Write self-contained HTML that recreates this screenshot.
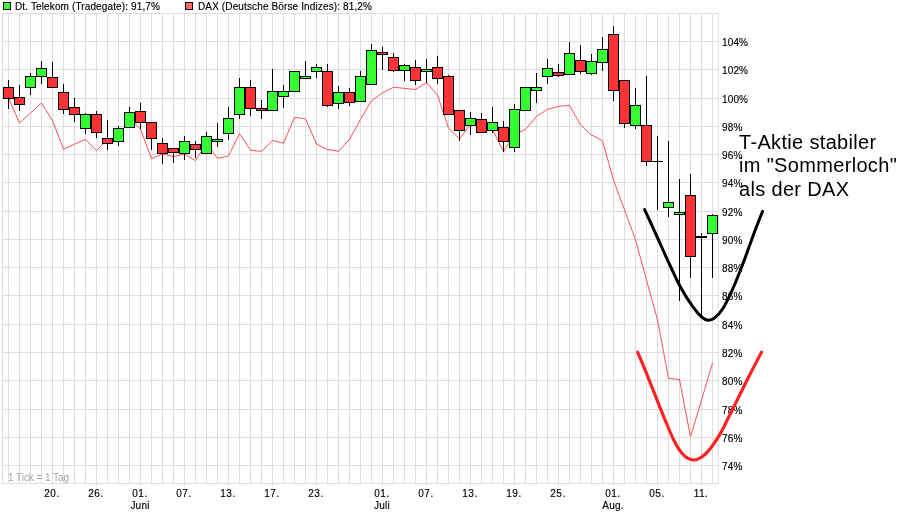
<!DOCTYPE html>
<html><head><meta charset="utf-8"><title>Chart</title>
<style>
html,body{margin:0;padding:0;background:#fff;}
body{width:922px;height:517px;position:relative;overflow:hidden;font-family:"Liberation Sans",sans-serif;color:#000;}
svg{position:absolute;left:0;top:0;}
.t{position:absolute;white-space:nowrap;font-size:10px;line-height:11px;letter-spacing:0.13px;will-change:transform;-webkit-text-stroke-width:0.15px;}
.c{text-align:center;width:40px;margin-left:-20px;letter-spacing:0.5px;}
.big{will-change:transform;position:absolute;white-space:nowrap;font-size:20px;line-height:24px;left:739px;letter-spacing:0.33px;}
</style></head><body>
<svg width="922" height="517" viewBox="0 0 922 517">
<rect x="0" y="0" width="922" height="517" fill="#fff"/>
<g shape-rendering="crispEdges">
<path d="M8.5 13V484M19.5 13V484M30.5 13V484M41.5 13V484M52.5 13V484M63.5 13V484M74.5 13V484M85.5 13V484M96.5 13V484M107.5 13V484M118.5 13V484M129.5 13V484M140.5 13V484M151.5 13V484M162.5 13V484M173.5 13V484M184.5 13V484M195.5 13V484M206.5 13V484M217.5 13V484M228.5 13V484M239.5 13V484M250.5 13V484M261.5 13V484M272.5 13V484M283.5 13V484M294.5 13V484M305.5 13V484M316.5 13V484M327.5 13V484M338.5 13V484M349.5 13V484M360.5 13V484M371.5 13V484M382.5 13V484M393.5 13V484M404.5 13V484M415.5 13V484M426.5 13V484M437.5 13V484M448.5 13V484M459.5 13V484M470.5 13V484M481.5 13V484M492.5 13V484M503.5 13V484M514.5 13V484M525.5 13V484M536.5 13V484M547.5 13V484M558.5 13V484M569.5 13V484M580.5 13V484M591.5 13V484M602.5 13V484M613.5 13V484M624.5 13V484M635.5 13V484M646.5 13V484M657.5 13V484M668.5 13V484M679.5 13V484M690.5 13V484M701.5 13V484M712.5 13V484M2 41.5H719M2 69.5H719M2 98.5H719M2 126.5H719M2 154.5H719M2 182.5H719M2 211.5H719M2 239.5H719M2 267.5H719M2 295.5H719M2 324.5H719M2 352.5H719M2 380.5H719M2 409.5H719M2 437.5H719M2 465.5H719" stroke="#dedede" stroke-width="1" fill="none"/>
<rect x="2.5" y="13.5" width="716" height="470" fill="none" stroke="#dedede" stroke-width="1"/>
<path d="M52.5 484V486M96.5 484V486M140.5 484V486M184.5 484V486M228.5 484V486M272.5 484V486M316.5 484V486M382.5 484V486M426.5 484V486M470.5 484V486M514.5 484V486M558.5 484V486M613.5 484V486M657.5 484V486M701.5 484V486" stroke="#dedede" stroke-width="1"/>
</g>
<polyline points="8.5,98 19.5,123 30.5,113 41.5,103 52.5,120.5 63.5,149.2 74.5,144.2 85.5,139.3 96.5,150.6 107.5,139.5 118.5,137 129.5,118 140.5,129 151.5,158.5 162.5,154 173.5,156.6 184.5,154 195.5,160.6 206.5,143 217.5,158.3 228.5,156 239.5,133.6 250.5,150.2 261.5,151.4 272.5,140.4 283.5,143.2 294.5,117.3 305.5,118.9 316.5,144.1 327.5,149.5 338.5,151.3 349.5,139.4 360.5,119.4 371.5,100.6 382.5,92.9 393.5,87.2 404.5,88.4 415.5,89.5 426.5,82.8 437.5,95 448.5,128 459.5,139 470.5,124 481.5,122 492.5,129.5 503.5,151.7 514.5,134.5 525.5,129.4 536.5,116.3 547.5,109.4 558.5,106.4 569.5,105.4 580.5,125 591.5,135 602.5,140.8 613.5,180 624.5,210 635.5,239.8 646.5,280 657.5,320 668.5,378.3 679.5,379.6 690.5,437 701.5,400 712.5,363" fill="none" stroke="#ff5050" stroke-width="1"/>
<g shape-rendering="crispEdges">
<rect x="8" y="80" width="1" height="29" fill="#000"/>
<rect x="3" y="87" width="11" height="12" fill="#000"/>
<rect x="4" y="88" width="9" height="10" fill="#ff3333"/>
<rect x="19" y="85" width="1" height="26" fill="#000"/>
<rect x="14" y="97" width="11" height="8" fill="#000"/>
<rect x="15" y="98" width="9" height="6" fill="#ff3333"/>
<rect x="30" y="73" width="1" height="22" fill="#000"/>
<rect x="25" y="76" width="11" height="12" fill="#000"/>
<rect x="26" y="77" width="9" height="10" fill="#33ff33"/>
<rect x="41" y="61" width="1" height="23" fill="#000"/>
<rect x="36" y="68" width="11" height="9" fill="#000"/>
<rect x="37" y="69" width="9" height="7" fill="#33ff33"/>
<rect x="52" y="62" width="1" height="26" fill="#000"/>
<rect x="47" y="77" width="11" height="11" fill="#000"/>
<rect x="48" y="78" width="9" height="9" fill="#ff3333"/>
<rect x="63" y="84" width="1" height="30" fill="#000"/>
<rect x="58" y="92" width="11" height="18" fill="#000"/>
<rect x="59" y="93" width="9" height="16" fill="#ff3333"/>
<rect x="74" y="98" width="1" height="24" fill="#000"/>
<rect x="69" y="107" width="11" height="8" fill="#000"/>
<rect x="70" y="108" width="9" height="6" fill="#ff3333"/>
<rect x="85" y="113" width="1" height="21" fill="#000"/>
<rect x="80" y="114" width="11" height="15" fill="#000"/>
<rect x="81" y="115" width="9" height="13" fill="#33ff33"/>
<rect x="96" y="111" width="1" height="27" fill="#000"/>
<rect x="91" y="114" width="11" height="19" fill="#000"/>
<rect x="92" y="115" width="9" height="17" fill="#ff3333"/>
<rect x="107" y="120" width="1" height="30" fill="#000"/>
<rect x="102" y="138" width="11" height="6" fill="#000"/>
<rect x="103" y="139" width="9" height="4" fill="#ff3333"/>
<rect x="118" y="126" width="1" height="20" fill="#000"/>
<rect x="113" y="128" width="11" height="14" fill="#000"/>
<rect x="114" y="129" width="9" height="12" fill="#33ff33"/>
<rect x="129" y="107" width="1" height="21" fill="#000"/>
<rect x="124" y="112" width="11" height="16" fill="#000"/>
<rect x="125" y="113" width="9" height="14" fill="#33ff33"/>
<rect x="140" y="103" width="1" height="26" fill="#000"/>
<rect x="135" y="111" width="11" height="12" fill="#000"/>
<rect x="136" y="112" width="9" height="10" fill="#ff3333"/>
<rect x="151" y="122" width="1" height="28" fill="#000"/>
<rect x="146" y="122" width="11" height="17" fill="#000"/>
<rect x="147" y="123" width="9" height="15" fill="#ff3333"/>
<rect x="162" y="138" width="1" height="26" fill="#000"/>
<rect x="157" y="143" width="11" height="11" fill="#000"/>
<rect x="158" y="144" width="9" height="9" fill="#ff3333"/>
<rect x="173" y="148" width="1" height="15" fill="#000"/>
<rect x="168" y="148" width="11" height="5" fill="#000"/>
<rect x="169" y="149" width="9" height="3" fill="#ff3333"/>
<rect x="184" y="136" width="1" height="24" fill="#000"/>
<rect x="179" y="141" width="11" height="13" fill="#000"/>
<rect x="180" y="142" width="9" height="11" fill="#33ff33"/>
<rect x="195" y="141" width="1" height="17" fill="#000"/>
<rect x="190" y="144" width="11" height="6" fill="#000"/>
<rect x="191" y="145" width="9" height="4" fill="#ff3333"/>
<rect x="206" y="132" width="1" height="22" fill="#000"/>
<rect x="201" y="136" width="11" height="18" fill="#000"/>
<rect x="202" y="137" width="9" height="16" fill="#33ff33"/>
<rect x="217" y="123" width="1" height="24" fill="#000"/>
<rect x="212" y="139" width="11" height="3" fill="#000"/>
<rect x="213" y="140" width="9" height="1" fill="#33ff33"/>
<rect x="228" y="107" width="1" height="33" fill="#000"/>
<rect x="223" y="118" width="11" height="16" fill="#000"/>
<rect x="224" y="119" width="9" height="14" fill="#33ff33"/>
<rect x="239" y="78" width="1" height="41" fill="#000"/>
<rect x="234" y="87" width="11" height="28" fill="#000"/>
<rect x="235" y="88" width="9" height="26" fill="#33ff33"/>
<rect x="250" y="80" width="1" height="36" fill="#000"/>
<rect x="245" y="87" width="11" height="22" fill="#000"/>
<rect x="246" y="88" width="9" height="20" fill="#ff3333"/>
<rect x="261" y="100" width="1" height="19" fill="#000"/>
<rect x="256" y="108" width="11" height="3" fill="#000"/>
<rect x="257" y="109" width="9" height="1" fill="#ff3333"/>
<rect x="272" y="69" width="1" height="42" fill="#000"/>
<rect x="267" y="91" width="11" height="20" fill="#000"/>
<rect x="268" y="92" width="9" height="18" fill="#33ff33"/>
<rect x="283" y="85" width="1" height="23" fill="#000"/>
<rect x="278" y="91" width="11" height="6" fill="#000"/>
<rect x="279" y="92" width="9" height="4" fill="#33ff33"/>
<rect x="294" y="71" width="1" height="21" fill="#000"/>
<rect x="289" y="71" width="11" height="21" fill="#000"/>
<rect x="290" y="72" width="9" height="19" fill="#33ff33"/>
<rect x="305" y="61" width="1" height="18" fill="#000"/>
<rect x="300" y="76" width="11" height="3" fill="#000"/>
<rect x="301" y="77" width="9" height="1" fill="#33ff33"/>
<rect x="316" y="64" width="1" height="14" fill="#000"/>
<rect x="311" y="67" width="11" height="5" fill="#000"/>
<rect x="312" y="68" width="9" height="3" fill="#33ff33"/>
<rect x="327" y="64" width="1" height="43" fill="#000"/>
<rect x="322" y="71" width="11" height="35" fill="#000"/>
<rect x="323" y="72" width="9" height="33" fill="#ff3333"/>
<rect x="338" y="86" width="1" height="23" fill="#000"/>
<rect x="333" y="92" width="11" height="12" fill="#000"/>
<rect x="334" y="93" width="9" height="10" fill="#33ff33"/>
<rect x="349" y="88" width="1" height="18" fill="#000"/>
<rect x="344" y="92" width="11" height="11" fill="#000"/>
<rect x="345" y="93" width="9" height="9" fill="#ff3333"/>
<rect x="360" y="71" width="1" height="31" fill="#000"/>
<rect x="355" y="76" width="11" height="26" fill="#000"/>
<rect x="356" y="77" width="9" height="24" fill="#33ff33"/>
<rect x="371" y="44" width="1" height="41" fill="#000"/>
<rect x="366" y="50" width="11" height="35" fill="#000"/>
<rect x="367" y="51" width="9" height="33" fill="#33ff33"/>
<rect x="382" y="47" width="1" height="23" fill="#000"/>
<rect x="377" y="52" width="11" height="3" fill="#000"/>
<rect x="378" y="53" width="9" height="1" fill="#ff3333"/>
<rect x="393" y="53" width="1" height="19" fill="#000"/>
<rect x="388" y="57" width="11" height="14" fill="#000"/>
<rect x="389" y="58" width="9" height="12" fill="#ff3333"/>
<rect x="404" y="64" width="1" height="17" fill="#000"/>
<rect x="399" y="65" width="11" height="6" fill="#000"/>
<rect x="400" y="66" width="9" height="4" fill="#33ff33"/>
<rect x="415" y="60" width="1" height="25" fill="#000"/>
<rect x="410" y="67" width="11" height="14" fill="#000"/>
<rect x="411" y="68" width="9" height="12" fill="#ff3333"/>
<rect x="426" y="59" width="1" height="24" fill="#000"/>
<rect x="421" y="69" width="11" height="3" fill="#000"/>
<rect x="422" y="70" width="9" height="1" fill="#33ff33"/>
<rect x="437" y="56" width="1" height="28" fill="#000"/>
<rect x="432" y="67" width="11" height="12" fill="#000"/>
<rect x="433" y="68" width="9" height="10" fill="#ff3333"/>
<rect x="448" y="75" width="1" height="40" fill="#000"/>
<rect x="443" y="76" width="11" height="39" fill="#000"/>
<rect x="444" y="77" width="9" height="37" fill="#ff3333"/>
<rect x="459" y="110" width="1" height="31" fill="#000"/>
<rect x="454" y="110" width="11" height="21" fill="#000"/>
<rect x="455" y="111" width="9" height="19" fill="#ff3333"/>
<rect x="470" y="112" width="1" height="23" fill="#000"/>
<rect x="465" y="118" width="11" height="8" fill="#000"/>
<rect x="466" y="119" width="9" height="6" fill="#33ff33"/>
<rect x="481" y="113" width="1" height="20" fill="#000"/>
<rect x="476" y="119" width="11" height="14" fill="#000"/>
<rect x="477" y="120" width="9" height="12" fill="#ff3333"/>
<rect x="492" y="107" width="1" height="26" fill="#000"/>
<rect x="487" y="122" width="11" height="9" fill="#000"/>
<rect x="488" y="123" width="9" height="7" fill="#33ff33"/>
<rect x="503" y="121" width="1" height="31" fill="#000"/>
<rect x="498" y="127" width="11" height="15" fill="#000"/>
<rect x="499" y="128" width="9" height="13" fill="#ff3333"/>
<rect x="514" y="104" width="1" height="48" fill="#000"/>
<rect x="509" y="109" width="11" height="39" fill="#000"/>
<rect x="510" y="110" width="9" height="37" fill="#33ff33"/>
<rect x="525" y="87" width="1" height="24" fill="#000"/>
<rect x="520" y="87" width="11" height="24" fill="#000"/>
<rect x="521" y="88" width="9" height="22" fill="#33ff33"/>
<rect x="536" y="73" width="1" height="30" fill="#000"/>
<rect x="531" y="87" width="11" height="4" fill="#000"/>
<rect x="532" y="88" width="9" height="2" fill="#33ff33"/>
<rect x="547" y="59" width="1" height="25" fill="#000"/>
<rect x="542" y="68" width="11" height="9" fill="#000"/>
<rect x="543" y="69" width="9" height="7" fill="#33ff33"/>
<rect x="558" y="64" width="1" height="13" fill="#000"/>
<rect x="553" y="72" width="11" height="4" fill="#000"/>
<rect x="554" y="73" width="9" height="2" fill="#ff3333"/>
<rect x="569" y="42" width="1" height="33" fill="#000"/>
<rect x="564" y="53" width="11" height="22" fill="#000"/>
<rect x="565" y="54" width="9" height="20" fill="#33ff33"/>
<rect x="580" y="45" width="1" height="29" fill="#000"/>
<rect x="575" y="60" width="11" height="12" fill="#000"/>
<rect x="576" y="61" width="9" height="10" fill="#ff3333"/>
<rect x="591" y="54" width="1" height="21" fill="#000"/>
<rect x="586" y="61" width="11" height="13" fill="#000"/>
<rect x="587" y="62" width="9" height="11" fill="#33ff33"/>
<rect x="602" y="37" width="1" height="34" fill="#000"/>
<rect x="597" y="49" width="11" height="14" fill="#000"/>
<rect x="598" y="50" width="9" height="12" fill="#33ff33"/>
<rect x="613" y="26" width="1" height="75" fill="#000"/>
<rect x="608" y="34" width="11" height="57" fill="#000"/>
<rect x="609" y="35" width="9" height="55" fill="#ff3333"/>
<rect x="624" y="80" width="1" height="48" fill="#000"/>
<rect x="619" y="80" width="11" height="44" fill="#000"/>
<rect x="620" y="81" width="9" height="42" fill="#ff3333"/>
<rect x="635" y="88" width="1" height="41" fill="#000"/>
<rect x="630" y="105" width="11" height="21" fill="#000"/>
<rect x="631" y="106" width="9" height="19" fill="#33ff33"/>
<rect x="646" y="76" width="1" height="90" fill="#000"/>
<rect x="641" y="125" width="11" height="37" fill="#000"/>
<rect x="642" y="126" width="9" height="35" fill="#ff3333"/>
<rect x="657" y="136" width="1" height="74" fill="#000"/>
<rect x="652" y="161" width="11" height="1" fill="#000"/>
<rect x="668" y="141" width="1" height="76" fill="#000"/>
<rect x="663" y="202" width="11" height="6" fill="#000"/>
<rect x="664" y="203" width="9" height="4" fill="#33ff33"/>
<rect x="679" y="179" width="1" height="122" fill="#000"/>
<rect x="674" y="212" width="11" height="3" fill="#000"/>
<rect x="675" y="213" width="9" height="1" fill="#33ff33"/>
<rect x="690" y="174" width="1" height="104" fill="#000"/>
<rect x="685" y="195" width="11" height="62" fill="#000"/>
<rect x="686" y="196" width="9" height="60" fill="#ff3333"/>
<rect x="701" y="233" width="1" height="85" fill="#000"/>
<rect x="696" y="236" width="11" height="2" fill="#000"/>
<rect x="712" y="214" width="1" height="64" fill="#000"/>
<rect x="707" y="215" width="11" height="19" fill="#000"/>
<rect x="708" y="216" width="9" height="17" fill="#33ff33"/>
</g>
<g shape-rendering="crispEdges">
<rect x="3.5" y="2.5" width="7" height="7" fill="#33ff33" stroke="#000"/>
<rect x="185.5" y="2.5" width="7" height="7" fill="#ff6666" stroke="#000"/>
</g>
</svg>
<div class="t" style="left:15px;top:1px;">Dt. Telekom (Tradegate): 91,7%</div>
<div class="t" style="left:198px;top:1px;">DAX (Deutsche Börse Indizes): 81,2%</div>
<div class="t" style="left:722px;top:37px;">104%</div>
<div class="t" style="left:722px;top:65px;">102%</div>
<div class="t" style="left:722px;top:94px;">100%</div>
<div class="t" style="left:722px;top:122px;">98%</div>
<div class="t" style="left:722px;top:150px;">96%</div>
<div class="t" style="left:722px;top:178px;">94%</div>
<div class="t" style="left:722px;top:207px;">92%</div>
<div class="t" style="left:722px;top:235px;">90%</div>
<div class="t" style="left:722px;top:263px;">88%</div>
<div class="t" style="left:722px;top:291px;">86%</div>
<div class="t" style="left:722px;top:320px;">84%</div>
<div class="t" style="left:722px;top:348px;">82%</div>
<div class="t" style="left:722px;top:376px;">80%</div>
<div class="t" style="left:722px;top:405px;">78%</div>
<div class="t" style="left:722px;top:433px;">76%</div>
<div class="t" style="left:722px;top:461px;">74%</div>
<div class="t" style="left:8px;top:472px;color:#a4a4a4;letter-spacing:-0.05px;-webkit-text-stroke-width:0;">1 Tick = 1 Tag</div>
<div class="t c" style="left:52px;top:488px;">20.</div>
<div class="t c" style="left:96px;top:488px;">26.</div>
<div class="t c" style="left:140px;top:488px;">01.</div>
<div class="t c" style="left:184px;top:488px;">07.</div>
<div class="t c" style="left:228px;top:488px;">13.</div>
<div class="t c" style="left:272px;top:488px;">17.</div>
<div class="t c" style="left:316px;top:488px;">23.</div>
<div class="t c" style="left:382px;top:488px;">01.</div>
<div class="t c" style="left:426px;top:488px;">07.</div>
<div class="t c" style="left:470px;top:488px;">13.</div>
<div class="t c" style="left:514px;top:488px;">19.</div>
<div class="t c" style="left:558px;top:488px;">25.</div>
<div class="t c" style="left:613px;top:488px;">01.</div>
<div class="t c" style="left:657px;top:488px;">05.</div>
<div class="t c" style="left:701px;top:488px;">11.</div>
<div class="t c" style="left:140px;top:500px;letter-spacing:0.2px;">Juni</div>
<div class="t c" style="left:382px;top:500px;letter-spacing:0.2px;">Juli</div>
<div class="t c" style="left:613px;top:500px;letter-spacing:0.2px;">Aug.</div>
<div class="big" style="top:130px;">T-Aktie stabiler</div>
<div class="big" style="top:153px;">im "Sommerloch"</div>
<div class="big" style="top:177px;">als der DAX</div>
<svg style="z-index:5" width="922" height="517" viewBox="0 0 922 517">
<path d="M644.6 209.6C646.4 213.4 651.4 224.2 655.2 232.7C659.1 241.2 663.5 251.4 667.7 260.4C671.9 269.4 676.1 279.1 680.3 286.8C684.5 294.6 689.3 301.9 692.9 306.9C696.5 311.9 699.2 314.8 701.7 317C704.2 319.2 705.9 320.1 708 320.3C710.1 320.5 711.8 320.2 714.3 318.2C716.8 316.2 720.0 313.2 723.1 308.2C726.2 303.2 729.8 295.6 733.1 288C736.5 280.4 739.8 271.7 743.2 262.9C746.6 254.1 750.1 243.8 753.3 235.2C756.5 226.6 761.0 215.3 762.6 211.3" fill="none" stroke="#000" stroke-width="3" stroke-linecap="round"/>
<path d="M637.6 352.1C638.9 355.1 642.3 363.0 645.2 370.2C648.1 377.4 651.9 386.9 655.2 395.3C658.6 403.7 661.9 412.5 665.3 420.5C668.6 428.5 672.1 437.2 675.3 443.1C678.4 449.0 681.2 452.9 684.2 455.7C687.2 458.5 690.1 459.8 693 460C695.9 460.2 698.9 459.0 701.8 457C704.7 455.0 707.5 452.2 710.6 448.2C713.7 444.2 717.2 439.0 720.6 433.1C724.0 427.2 727.3 419.7 730.7 413C734.1 406.3 737.4 399.5 740.8 392.8C744.1 386.1 747.3 379.5 750.8 372.7C754.3 365.9 759.8 355.5 761.6 352.1" fill="none" stroke="#ff2222" stroke-width="3.2" stroke-linecap="round"/>
</svg>
</body></html>
